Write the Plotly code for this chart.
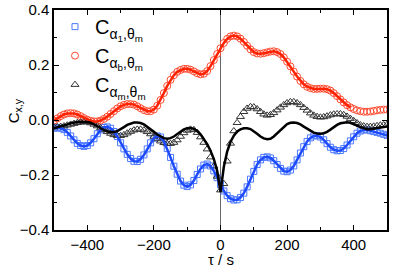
import plotly.graph_objects as go

tau = list(range(-500, 501, 10))

c_a1 = [-0.030, -0.028, -0.030, -0.035, -0.045, -0.058, -0.072, -0.085, -0.093, -0.096,
        -0.093, -0.083, -0.068, -0.050, -0.036, -0.027, -0.025, -0.030, -0.042, -0.060,
        -0.083, -0.105, -0.125, -0.140, -0.150, -0.151, -0.143, -0.127, -0.105, -0.083,
        -0.066, -0.058, -0.062, -0.078, -0.104, -0.136, -0.168, -0.197, -0.222, -0.237,
        -0.242, -0.236, -0.220, -0.198, -0.178, -0.164, -0.160, -0.167, -0.185, -0.210,
        -0.235, -0.258, -0.275, -0.286, -0.291, -0.290, -0.282, -0.266, -0.243, -0.215,
        -0.187, -0.162, -0.145, -0.136, -0.134, -0.138, -0.148, -0.162, -0.176, -0.186,
        -0.188, -0.182, -0.167, -0.145, -0.120, -0.097, -0.078, -0.065, -0.058, -0.057,
        -0.062, -0.072, -0.086, -0.099, -0.108, -0.112, -0.111, -0.104, -0.091, -0.076,
        -0.061, -0.048, -0.040, -0.036, -0.036, -0.039, -0.042, -0.045, -0.048, -0.052,
        -0.056]

c_ab = [-0.002, 0.006, 0.014, 0.020, 0.024, 0.025, 0.024, 0.020, 0.014, 0.007,
        0.001, -0.003, -0.005, -0.005, -0.002, 0.004, 0.012, 0.022, 0.032, 0.042,
        0.050, 0.055, 0.058, 0.058, 0.056, 0.050, 0.043, 0.036, 0.032, 0.032,
        0.038, 0.052, 0.073, 0.098, 0.124, 0.146, 0.163, 0.175, 0.182, 0.186,
        0.186, 0.183, 0.177, 0.170, 0.166, 0.168, 0.178, 0.196, 0.218, 0.240,
        0.261, 0.280, 0.295, 0.304, 0.307, 0.304, 0.296, 0.284, 0.270, 0.257,
        0.247, 0.242, 0.241, 0.243, 0.246, 0.249, 0.250, 0.247, 0.240, 0.228,
        0.212, 0.195, 0.176, 0.158, 0.142, 0.130, 0.121, 0.116, 0.113, 0.113,
        0.114, 0.114, 0.112, 0.107, 0.098, 0.087, 0.075, 0.064, 0.054, 0.046,
        0.040, 0.035, 0.032, 0.030, 0.030, 0.031, 0.033, 0.035, 0.037, 0.038,
        0.038]

c_am = [-0.026, -0.025, -0.024, -0.022, -0.019, -0.016, -0.013, -0.010, -0.008, -0.007,
        -0.008, -0.011, -0.016, -0.022, -0.029, -0.036, -0.043, -0.049, -0.054, -0.057,
        -0.057, -0.054, -0.048, -0.042, -0.037, -0.034, -0.034, -0.037, -0.043, -0.051,
        -0.060, -0.069, -0.077, -0.083, -0.086, -0.086, -0.082, -0.073, -0.060, -0.047,
        -0.038, -0.034, -0.036, -0.046, -0.062, -0.082, -0.106, -0.135, -0.168, -0.205,
        -0.255, -0.232, -0.150, -0.085, -0.040, -0.010, 0.012, 0.030, 0.042, 0.048,
        0.047, 0.040, 0.030, 0.021, 0.017, 0.019, 0.026, 0.036, 0.046, 0.055,
        0.062, 0.066, 0.066, 0.062, 0.055, 0.045, 0.035, 0.025, 0.017, 0.012,
        0.010, 0.011, 0.014, 0.018, 0.021, 0.022, 0.022, 0.019, 0.013, 0.005,
        -0.003, -0.011, -0.018, -0.022, -0.024, -0.024, -0.023, -0.021, -0.019, -0.018,
        -0.017]

fit_am = [-0.030, -0.027, -0.024, -0.020, -0.016, -0.012, -0.009, -0.007, -0.006, -0.006,
          -0.007, -0.010, -0.015, -0.022, -0.030, -0.037, -0.042, -0.044, -0.044, -0.040,
          -0.034, -0.026, -0.018, -0.012, -0.009, -0.009, -0.011, -0.016, -0.024, -0.033,
          -0.043, -0.053, -0.061, -0.066, -0.068, -0.066, -0.060, -0.051, -0.042, -0.034,
          -0.030, -0.029, -0.032, -0.040, -0.052, -0.068, -0.088, -0.112, -0.142, -0.185,
          -0.262, -0.170, -0.115, -0.080, -0.057, -0.042, -0.034, -0.030, -0.030, -0.033,
          -0.040, -0.050, -0.060, -0.067, -0.070, -0.068, -0.060, -0.049, -0.036, -0.024,
          -0.015, -0.010, -0.009, -0.011, -0.016, -0.024, -0.032, -0.040, -0.046, -0.049,
          -0.050, -0.048, -0.043, -0.035, -0.026, -0.018, -0.012, -0.009, -0.008, -0.010,
          -0.014, -0.020, -0.026, -0.031, -0.034, -0.034, -0.032, -0.029, -0.026, -0.024,
          -0.024]

red_fit_end = 390  # fitted red curve stops here
tau_red_fit = [t for t in tau if t <= red_fit_end]
fit_ab = c_ab[:len(tau_red_fit)]
fit_a1 = c_a1

x_ticks = [-400, -200, 0, 200, 400]
x_minor = [-300, -100, 100, 300]
y_ticks = [-0.4, -0.2, 0.0, 0.2, 0.4]
y_minor = [-0.3, -0.1, 0.1, 0.3]

names = ["C<sub>α<sub>1</sub>,θ<sub>m</sub></sub>",
         "C<sub>α<sub>b</sub>,θ<sub>m</sub></sub>",
         "C<sub>α<sub>m</sub>,θ<sub>m</sub></sub>"]

fig = go.Figure()
fig.add_trace(go.Scatter(x=tau, y=c_a1, mode="markers", name=names[0],
                         marker=dict(symbol="square-open", size=6, color="#4a78ff",
                                     line=dict(width=1))))
fig.add_trace(go.Scatter(x=tau, y=c_ab, mode="markers", name=names[1],
                         marker=dict(symbol="circle-open", size=7, color="#ff4a30",
                                     line=dict(width=1))))
fig.add_trace(go.Scatter(x=tau, y=c_am, mode="markers", name=names[2],
                         marker=dict(symbol="triangle-up-open", size=7, color="#333333",
                                     line=dict(width=1))))
fig.add_trace(go.Scatter(x=tau, y=fit_a1, mode="lines", showlegend=False,
                         line=dict(color="#1f4bff", width=2.5)))
fig.add_trace(go.Scatter(x=tau_red_fit, y=fit_ab, mode="lines", showlegend=False,
                         line=dict(color="#ff2200", width=2.5)))
fig.add_trace(go.Scatter(x=tau, y=fit_am, mode="lines", showlegend=False,
                         line=dict(color="#000000", width=2.5)))

font = dict(family="Liberation Sans, Arial, sans-serif", size=15, color="black")
fig.update_layout(
    width=395, height=274,
    margin=dict(l=54, r=8, t=10, b=44, autoexpand=False),
    paper_bgcolor="white", plot_bgcolor="white",
    font=font,
    showlegend=True,
    legend=dict(x=0.003, y=1.013, xanchor="left", yanchor="top",
                bgcolor="rgba(0,0,0,0)", font=dict(size=20),
                itemsizing="trace", tracegroupgap=0),
    xaxis=dict(range=[-500, 500], tickmode="array", tickvals=x_ticks,
               ticks="inside", ticklen=5, tickwidth=1, tickcolor="black",
               showline=True, linecolor="black", linewidth=1.5, mirror="ticks",
               showgrid=False, zeroline=True, zerolinecolor="#666666", zerolinewidth=1,
               minor=dict(tickvals=x_minor, ticks="inside", ticklen=3,
                          tickcolor="black", showgrid=False),
               automargin=False),
    yaxis=dict(range=[-0.4, 0.4], tickmode="array", tickvals=y_ticks,
               tickformat=".1f",
               ticks="inside", ticklen=5, tickwidth=1, tickcolor="black",
               showline=True, linecolor="black", linewidth=1.5, mirror="ticks",
               showgrid=False, zeroline=False,
               minor=dict(tickvals=y_minor, ticks="inside", ticklen=3,
                          tickcolor="black", showgrid=False),
               automargin=False),
    annotations=[
        dict(text="τ / s", xref="paper", yref="paper", x=0.5, y=-0.135,
             xanchor="center", yanchor="middle", showarrow=False,
             font=dict(size=15)),
        dict(text="C<sub>x,y</sub>", xref="paper", yref="paper", x=-0.12, y=0.54,
             xanchor="center", yanchor="middle", showarrow=False, textangle=-90,
             font=dict(size=15)),
    ],
)

fig.write_html("out.html", config={"displayModeBar": False},
               post_script="document.body.style.margin='0';")
